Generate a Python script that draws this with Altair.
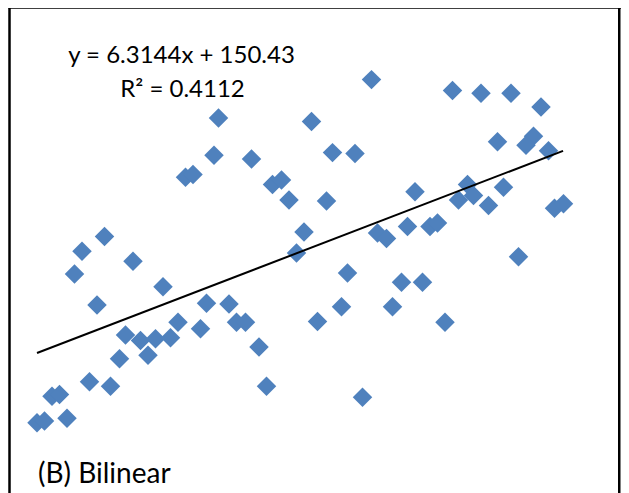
import altair as alt
import pandas as pd

# Scatter values
x_vals = [22.3, 27.7, 29.6, 31.6, 33.6, 12.1, 18.3, 30.7, 33.1, 32.6,
          34.1, 11.8, 14.3, 19.7, 21.2, 9.9, 10.4, 15.7, 16.3, 16.8,
          19.3, 25.2, 28.7, 29.1, 28.1, 31.1, 30.1, 34.5, 35.1, 3.0,
          4.5, 2.5, 6.4, 17.8, 17.3, 22.7, 23.3, 24.7, 26.2, 26.7,
          32.1, 4.0, 8.4, 20.7, 24.3, 25.7, 12.8, 11.3, 23.7, 20.3,
          18.7, 9.4, 10.9, 13.3, 13.9, 27.2, 5.9, 6.9, 7.9, 8.9,
          7.4, 14.8, 5.5, 3.5, 4.9, 15.3, 21.7, 1.0, 1.5, 2.0,
          0.0, 0.5]
y_vals = [450, 438, 435, 435, 420, 408, 404, 382, 388, 378,
          372, 367, 363, 370, 369, 343, 346, 335, 340, 318,
          317, 327, 335, 323, 318, 332, 312, 309, 314, 262,
          278, 237, 251, 283, 260, 282, 276, 289, 289, 293,
          256, 203, 223, 238, 228, 228, 204, 205, 201, 201,
          185, 184, 177, 184, 184, 184, 170, 164, 166, 167,
          148, 157, 144, 119, 114, 114, 102, 103, 105, 79,
          74, 76]

# Linear trendline as printed on the chart
slope = 6.3144
intercept = 150.43
line_x = [0.0, 35.07]

equation_text = ["y = 6.3144x + 150.43"]
r2_text = ["R² = 0.4112"]
panel_label = ["(B) Bilinear"]

pts = pd.DataFrame({"x": x_vals, "y": y_vals})
line_df = pd.DataFrame({"x": line_x, "y": [intercept + slope * v for v in line_x]})

xs = alt.Scale(domain=[-1.9333, 38.733], nice=False, zero=False)
ys = alt.Scale(domain=[-8.5, 526.3], nice=False, zero=False)

one = pd.DataFrame({"a": [0]})

frame_top = alt.Chart(one).mark_rule(color="black", strokeWidth=2.5).encode(
    x=alt.value(0.5), x2=alt.value(613), y=alt.value(-2.5))
frame_left = alt.Chart(one).mark_rule(color="black", strokeWidth=2.5).encode(
    x=alt.value(1.5), y=alt.value(-3.7), y2=alt.value(495))
frame_right = alt.Chart(one).mark_rule(color="black", strokeWidth=2.5).encode(
    x=alt.value(611.25), y=alt.value(-3.7), y2=alt.value(495))

points = alt.Chart(pts).mark_point(
    shape="diamond", filled=True, size=380, color="#4F81BD", opacity=1
).encode(
    x=alt.X("x:Q", scale=xs, axis=None),
    y=alt.Y("y:Q", scale=ys, axis=None),
)

trend = alt.Chart(line_df).mark_line(color="black", strokeWidth=2).encode(
    x=alt.X("x:Q", scale=xs, axis=None),
    y=alt.Y("y:Q", scale=ys, axis=None),
)

eq = alt.Chart(pd.DataFrame({"t": equation_text})).mark_text(
    font="Lato", fontSize=24, color="black", align="center", baseline="alphabetic"
).encode(text="t:N", x=alt.value(173.5), y=alt.value(53))

r2 = alt.Chart(pd.DataFrame({"t": r2_text})).mark_text(
    font="Lato", fontSize=24, color="black", align="center", baseline="alphabetic"
).encode(text="t:N", x=alt.value(174.5), y=alt.value(87))

lab = alt.Chart(pd.DataFrame({"t": panel_label})).mark_text(
    font="Lato", fontSize=28, color="black", align="left", baseline="alphabetic"
).encode(text="t:N", x=alt.value(30), y=alt.value(473))

chart = alt.layer(
    frame_top, frame_left, frame_right, points, trend, eq, r2, lab
).properties(
    width=610,
    height=488,
    padding={"left": 0, "top": 2, "right": 3, "bottom": 5},
    autosize="none",
    background="white",
).configure_view(stroke=None)

chart.save("out.html", embed_options={"renderer": "svg", "actions": False})
